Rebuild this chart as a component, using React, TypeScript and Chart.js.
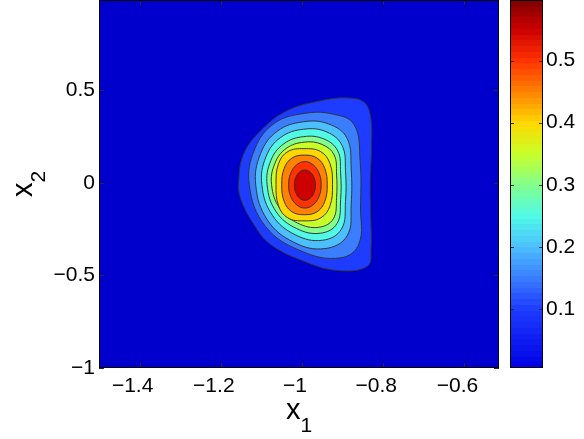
import React, { useEffect, useRef } from 'react';
import { Chart, registerables } from 'chart.js';

Chart.register(...registerables);

// ---- axis data ----
const xTicks = [-1.4, -1.2, -1.0, -0.8, -0.6];
const yTicks = [-1, -0.5, 0, 0.5];
const colorbarTicks = [0.1, 0.2, 0.3, 0.4, 0.5];
const xRange = [-1.5, -0.515];
const yRange = [-1.0, 0.988];
const colorRange = [0.0047, 0.5977];

// ---- contour levels (outer -> inner) ----
const contourLevels = [0.1, 0.15, 0.2, 0.25, 0.3, 0.35, 0.4, 0.45, 0.5, 0.55];

// contour outlines, [x1, x2]
const level010 = [
  [-0.832, 0.0], [-0.831, -0.168], [-0.83, -0.35], [-0.839, -0.45], [-0.913, -0.473],
  [-0.996, -0.423], [-1.078, -0.332], [-1.119, -0.224], [-1.152, -0.08], [-1.156, 0.01],
  [-1.144, 0.155], [-1.102, 0.282], [-1.037, 0.39], [-0.954, 0.444], [-0.888, 0.459],
  [-0.847, 0.435], [-0.831, 0.354], [-0.829, 0.191],
];
const level015 = [
  [-0.856, -0.13], [-0.86, -0.33], [-0.905, -0.405], [-1.0, -0.37], [-1.09, -0.235],
  [-1.13, -0.01], [-1.116, 0.185], [-1.068, 0.322], [-0.995, 0.375], [-0.925, 0.372],
  [-0.872, 0.315], [-0.857, 0.12],
];
const level020 = [
  [-0.879, -0.115], [-0.889, -0.286], [-0.944, -0.355], [-1.02, -0.321], [-1.085, -0.201],
  [-1.114, -0.012], [-1.102, 0.159], [-1.061, 0.279], [-0.997, 0.33], [-0.934, 0.318],
  [-0.889, 0.24], [-0.879, 0.075],
];
const level025 = [
  [-0.893, -0.1], [-0.903, -0.25], [-0.95, -0.31], [-1.017, -0.28], [-1.073, -0.175],
  [-1.099, -0.01], [-1.089, 0.14], [-1.053, 0.245], [-0.996, 0.29], [-0.939, 0.275],
  [-0.901, 0.2], [-0.893, 0.065],
];
const level030 = [
  [-0.905, -0.09], [-0.914, -0.22], [-0.955, -0.272], [-1.014, -0.246], [-1.064, -0.155],
  [-1.086, -0.011], [-1.077, 0.12], [-1.045, 0.211], [-0.996, 0.25], [-0.946, 0.237],
  [-0.912, 0.172], [-0.905, 0.055],
];
const level035 = [
  [-0.915, -0.079], [-0.923, -0.194], [-0.959, -0.24], [-1.011, -0.217], [-1.055, -0.137],
  [-1.075, -0.01], [-1.067, 0.105], [-1.039, 0.186], [-0.995, 0.22], [-0.951, 0.208],
  [-0.921, 0.151], [-0.915, 0.048],
];
const level040 = [
  [-0.925, -0.01], [-0.931, -0.123], [-0.954, -0.189], [-0.995, -0.205], [-1.035, -0.189],
  [-1.058, -0.123], [-1.064, -0.01], [-1.058, 0.103], [-1.035, 0.169], [-0.995, 0.185],
  [-0.954, 0.169], [-0.931, 0.103],
];
const level045 = [
  [-0.938, -0.011], [-0.944, -0.1], [-0.963, -0.156], [-0.994, -0.172], [-1.025, -0.156],
  [-1.044, -0.1], [-1.05, -0.011], [-1.044, 0.078], [-1.025, 0.134], [-0.994, 0.15],
  [-0.963, 0.134], [-0.944, 0.078],
];
const level050 = [
  [-0.953, -0.01], [-0.958, -0.073], [-0.973, -0.119], [-0.993, -0.136], [-1.013, -0.119],
  [-1.028, -0.073], [-1.033, -0.01], [-1.028, 0.052], [-1.013, 0.098], [-0.993, 0.115],
  [-0.973, 0.098], [-0.958, 0.052],
];
const level055 = [
  [-0.967, -0.012], [-0.9705, -0.053], [-0.98, -0.083], [-0.993, -0.094], [-1.006, -0.083],
  [-1.0155, -0.053], [-1.019, -0.012], [-1.0155, 0.029], [-1.006, 0.059], [-0.993, 0.07],
  [-0.98, 0.059], [-0.9705, 0.029],
];
const contourShapes = [
  level010, level015, level020, level025, level030,
  level035, level040, level045, level050, level055,
];

// ---- styling ----
const FONT = "'Liberation Sans', Arial, Helvetica, sans-serif";
const BG_COLOR = 'rgb(0,0,205)';
const LINE_COLOR = 'rgba(50,50,50,0.95)';
const TICK_COLOR = '#2a2a2a';

// colormap stops: [value, r, g, b]
const cmapStops: number[][] = [
  [0.0047, 0, 0, 228],
  [0.1, 30, 60, 255],
  [0.15, 58, 125, 255],
  [0.2, 76, 192, 255],
  [0.25, 80, 250, 230],
  [0.3, 130, 255, 140],
  [0.35, 200, 255, 40],
  [0.4, 255, 215, 0],
  [0.45, 255, 130, 0],
  [0.5, 255, 50, 0],
  [0.55, 205, 0, 0],
  [0.5977, 128, 0, 0],
];

function cmap(v: number): string {
  if (v <= cmapStops[0][0]) { const s = cmapStops[0]; return `rgb(${s[1]},${s[2]},${s[3]})`; }
  for (let i = 1; i < cmapStops.length; i++) {
    const a = cmapStops[i - 1];
    const b = cmapStops[i];
    if (v <= b[0]) {
      const t = (v - a[0]) / (b[0] - a[0]);
      const r = Math.round(a[1] + t * (b[1] - a[1]));
      const g = Math.round(a[2] + t * (b[2] - a[2]));
      const bl = Math.round(a[3] + t * (b[3] - a[3]));
      return `rgb(${r},${g},${bl})`;
    }
  }
  const s = cmapStops[cmapStops.length - 1];
  return `rgb(${s[1]},${s[2]},${s[3]})`;
}

function fmt(v: any): string {
  const n = Math.round(Number(v) * 10) / 10;
  return String(n).replace('-', '\u2212');
}

function zeroPad(s: any) {
  s.paddingTop = 0;
  s.paddingBottom = 0;
  s.paddingLeft = 0;
  s.paddingRight = 0;
}

const loopPlugin = {
  id: 'closedLoop',
  afterDatasetUpdate(chart: any, args: any) {
    const line = args.meta && args.meta.dataset;
    if (line) {
      line._loop = true;
      line._fullLoop = true;
    }
  },
};

const bgPlugin = {
  id: 'plotBg',
  beforeDatasetsDraw(chart: any) {
    const { ctx, chartArea: a } = chart;
    ctx.save();
    ctx.fillStyle = BG_COLOR;
    ctx.fillRect(a.left, a.top, a.right - a.left, a.bottom - a.top);
    ctx.restore();
  },
};

function drawSubLabel(ctx: CanvasRenderingContext2D, main: string, sub: string, x: number, y: number, mainSize: number, subSize: number, subDrop: number) {
  ctx.font = `${mainSize}px ${FONT}`;
  const w1 = ctx.measureText(main).width;
  ctx.font = `${subSize}px ${FONT}`;
  const w2 = ctx.measureText(sub).width;
  const start = x - (w1 + w2) / 2;
  ctx.textAlign = 'left';
  ctx.textBaseline = 'alphabetic';
  ctx.fillStyle = '#000';
  ctx.font = `${mainSize}px ${FONT}`;
  ctx.fillText(main, start, y);
  ctx.font = `${subSize}px ${FONT}`;
  ctx.fillText(sub, start + w1, y + subDrop);
}

const framePlugin = {
  id: 'frame',
  afterDraw(chart: any) {
    const { ctx, chartArea: a, scales } = chart;
    ctx.save();
    ctx.strokeStyle = TICK_COLOR;
    ctx.lineWidth = 1;
    ctx.beginPath();
    for (const v of xTicks) {
      const px = Math.round(scales.x.getPixelForValue(v)) + 0.5;
      ctx.moveTo(px, a.bottom);
      ctx.lineTo(px, a.bottom - 5);
      ctx.moveTo(px, a.top);
      ctx.lineTo(px, a.top + 5);
    }
    for (const v of yTicks) {
      const py = Math.round(scales.y.getPixelForValue(v)) + 0.5;
      ctx.moveTo(a.left, py);
      ctx.lineTo(a.left + 5, py);
      ctx.moveTo(a.right, py);
      ctx.lineTo(a.right - 5, py);
    }
    ctx.stroke();
    ctx.strokeStyle = '#000';
    ctx.strokeRect(a.left + 0.5, a.top + 0.5, a.right - a.left - 1, a.bottom - a.top - 1);

    // axis titles
    const cx = (a.left + a.right) / 2;
    drawSubLabel(ctx, 'x', '1', cx, a.bottom + 51, 29, 21, 13);
    ctx.save();
    ctx.translate(32, (a.top + a.bottom) / 2);
    ctx.rotate(-Math.PI / 2);
    drawSubLabel(ctx, 'x', '2', 0, 0, 29, 21, 13);
    ctx.restore();
    ctx.restore();
  },
};

const cbFramePlugin = {
  id: 'cbFrame',
  afterDraw(chart: any) {
    const { ctx, chartArea: a, scales } = chart;
    ctx.save();
    ctx.strokeStyle = TICK_COLOR;
    ctx.lineWidth = 1;
    ctx.beginPath();
    for (const v of colorbarTicks) {
      const py = Math.round(scales.y.getPixelForValue(v)) + 0.5;
      ctx.moveTo(a.left, py);
      ctx.lineTo(a.left + 4, py);
      ctx.moveTo(a.right, py);
      ctx.lineTo(a.right - 4, py);
    }
    ctx.stroke();
    ctx.strokeStyle = '#000';
    ctx.strokeRect(a.left + 0.5, a.top + 0.5, a.right - a.left - 1, a.bottom - a.top - 1);
    ctx.restore();
  },
};

const tickFont = { family: FONT, size: 21 };

export default function App() {
  const mainRef = useRef<HTMLCanvasElement>(null);
  const cbRef = useRef<HTMLCanvasElement>(null);

  useEffect(() => {
    const main = new Chart(mainRef.current as HTMLCanvasElement, {
      type: 'scatter',
      data: {
        datasets: contourShapes.map((pts, i) => ({
          data: pts.map(([x, y]) => ({ x, y })),
          showLine: true,
          fill: 'shape',
          backgroundColor: cmap(contourLevels[i]),
          borderColor: LINE_COLOR,
          borderWidth: 1,
          pointRadius: 0,
          pointHoverRadius: 0,
          tension: 0.4,
          order: contourShapes.length - i,
        })),
      } as any,
      options: {
        animation: false,
        responsive: false,
        devicePixelRatio: 1,
        events: [],
        layout: { padding: { left: 0, top: 0, right: 6, bottom: 0 } },
        plugins: { legend: { display: false }, tooltip: { enabled: false } },
        scales: {
          x: {
            type: 'linear',
            min: xRange[0],
            max: xRange[1],
            grid: { display: false, drawTicks: false },
            border: { display: false },
            ticks: { font: tickFont, color: '#000', padding: 6, labelOffset: -7, maxRotation: 0, autoSkip: false, callback: fmt },
            afterBuildTicks: (s: any) => { s.ticks = xTicks.map((v) => ({ value: v })); },
            afterFit: (s: any) => { s.height = 71; zeroPad(s); },
          },
          y: {
            type: 'linear',
            min: yRange[0],
            max: yRange[1],
            grid: { display: false, drawTicks: false },
            border: { display: false },
            ticks: { font: tickFont, color: '#000', padding: 4, autoSkip: false, callback: fmt },
            afterBuildTicks: (s: any) => { s.ticks = yTicks.map((v) => ({ value: v })); },
            afterFit: (s: any) => { s.width = 99; zeroPad(s); },
          },
        },
      } as any,
      plugins: [loopPlugin, bgPlugin, framePlugin],
    });

    const cb = new Chart(cbRef.current as HTMLCanvasElement, {
      type: 'bar',
      data: {
        labels: ['c'],
        datasets: [{
          data: [[colorRange[0], colorRange[1]]],
          barPercentage: 1,
          categoryPercentage: 1,
          borderWidth: 0,
          backgroundColor: (ctx: any) => {
            const chart = ctx.chart;
            const a = chart.chartArea;
            if (!a) return 'blue';
            const g = chart.ctx.createLinearGradient(0, a.bottom, 0, a.top);
            const n = 64;
            for (let i = 0; i < n; i++) {
              const v = colorRange[0] + ((i + 0.5) / n) * (colorRange[1] - colorRange[0]);
              const col = cmap(v);
              g.addColorStop(i / n, col);
              g.addColorStop((i + 1) / n - 1e-6, col);
            }
            return g;
          },
        }],
      } as any,
      options: {
        animation: false,
        responsive: false,
        devicePixelRatio: 1,
        events: [],
        layout: { padding: { left: 5, top: 0, right: 0, bottom: 71 } },
        plugins: { legend: { display: false }, tooltip: { enabled: false } },
        scales: {
          x: { display: false },
          y: {
            position: 'right',
            min: colorRange[0],
            max: colorRange[1],
            grid: { display: false, drawTicks: false },
            border: { display: false },
            ticks: { font: tickFont, color: '#000', padding: 3, autoSkip: false, callback: fmt },
            afterBuildTicks: (s: any) => { s.ticks = colorbarTicks.map((v) => ({ value: v })); },
            afterFit: (s: any) => { s.width = 41; zeroPad(s); },
          },
        },
      } as any,
      plugins: [cbFramePlugin],
    });

    return () => {
      main.destroy();
      cb.destroy();
    };
  }, []);

  return (
    <div style={{ position: 'fixed', left: 0, top: 0, width: 584, height: 439, background: '#fff' }}>
      <canvas ref={mainRef} width={505} height={439} style={{ position: 'absolute', left: 0, top: 0, width: 505, height: 439 }} />
      <canvas ref={cbRef} width={79} height={439} style={{ position: 'absolute', left: 505, top: 0, width: 79, height: 439 }} />
    </div>
  );
}
